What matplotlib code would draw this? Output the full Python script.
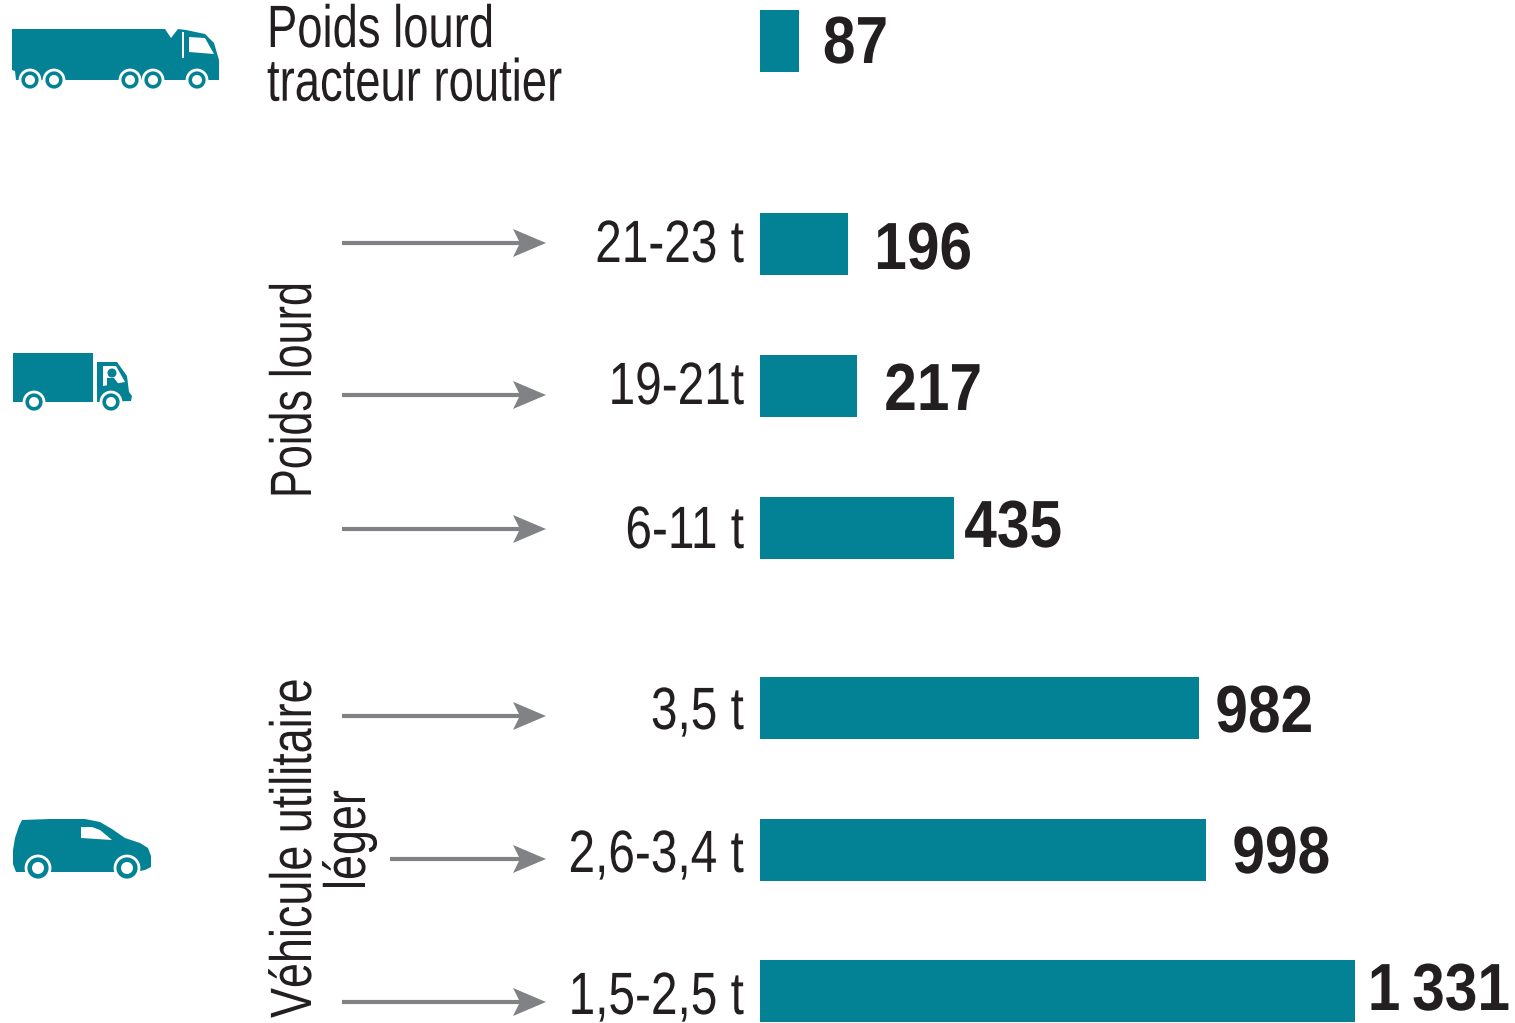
import matplotlib
matplotlib.use('Agg')
import matplotlib.pyplot as plt
from matplotlib.patches import Polygon, Circle, Rectangle
from matplotlib.patheffects import AbstractPathEffect
from matplotlib.transforms import Affine2D

# data
labels = ['21-23 t', '19-21t', '6-11 t', '3,5 t', '2,6-3,4 t', '1,5-2,5 t']
values = [87, 196, 217, 435, 982, 998, 1331]
value_labels = ['87', '196', '217', '435', '982', '998', '1\u2009331']

# layout, in pixels of the reference
W, H = 1515, 1023
BAR_Y = [41, 244, 386, 528, 708, 850, 991]
LABEL_BASE = [262, 404, 548, 729, 872, 1014]
VALUE_RIGHT = [888, 972, 982, 1062, 1313, 1330, 1510]
VALUE_BASE = [63, 269, 410, 547, 732, 873, 1010]
ARROWS = [(342, 243), (342, 395), (342, 529), (342, 716), (390, 859), (342, 1002)]
PX_PER_UNIT = 595 / 1331
X0 = 760

TEAL = '#048295'
DARK = '#231f20'
GREY = '#808285'
plt.rcParams['font.family'] = ['Liberation Sans', 'DejaVu Sans']

fig = plt.figure(figsize=(W / 100, H / 100), dpi=100)

# pixel overlay for text, arrows and icons
ax = fig.add_axes([0, 0, 1, 1])
ax.set_xlim(0, W)
ax.set_ylim(H, 0)
ax.axis('off')

# bars get their own x scale
bx = fig.add_axes([X0 / W, 0, (W - X0) / W, 1], sharey=ax)
bx.set_xlim(0, (W - X0) / PX_PER_UNIT)
bx.axis('off')
bx.patch.set_alpha(0)
bx.barh(BAR_Y, values, height=62, color=TEAL)


class Condense(AbstractPathEffect):
    # squeeze the glyphs about one point, there is no narrow font installed
    def __init__(self, x, y, sx=1.0, sy=1.0):
        super().__init__()
        self.x, self.y, self.sx, self.sy = x, y, sx, sy

    def draw_path(self, renderer, gc, tpath, affine, rgbFace=None):
        squeeze = Affine2D().translate(-self.x, -self.y).scale(self.sx, self.sy).translate(self.x, self.y)
        renderer.draw_path(gc, tpath, affine + squeeze, rgbFace)


def put(x, y, s, size, squeeze, rotation=0, **kw):
    px, py = ax.transData.transform((x, y))
    if rotation:
        fx = Condense(px, py, sy=squeeze)
    else:
        fx = Condense(px, py, sx=squeeze)
    ax.text(x, y, s, fontsize=size, color=DARK, va='baseline', rotation=rotation,
            rotation_mode='anchor', path_effects=[fx], **kw)


for i in range(len(labels)):
    put(744, LABEL_BASE[i], labels[i], 43, 0.8, ha='right')
for i in range(len(values)):
    put(VALUE_RIGHT[i], VALUE_BASE[i], value_labels[i], 48, 0.88, ha='right', fontweight='bold')

# multi-line text sits on the baseline of its last line
put(267, 102, 'Poids lourd\ntracteur routier', 43, 0.76, ha='left', linespacing=0.97)
put(311, 498, 'Poids lourd', 42, 0.74, rotation=90, ha='left')
put(311, 1018, 'Véhicule utilitaire', 42, 0.77, rotation=90, ha='left')
put(365, 890, 'léger', 42, 0.77, rotation=90, ha='left')

for x, y in ARROWS:
    ax.plot([x, 520], [y, y], color=GREY, lw=3, solid_capstyle='butt')
    ax.add_patch(Polygon([(513, y - 14), (546, y), (513, y + 14), (520, y)], color=GREY, lw=0))


def wheel(cx, cy, r):
    ax.add_patch(Circle((cx, cy), r, fc=TEAL, ec='white', lw=2, zorder=3))
    ax.add_patch(Circle((cx, cy), r * 0.5, fc='white', ec='none', zorder=4))


# semi truck
ax.add_patch(Polygon([(12, 29), (165, 29), (171, 38), (178, 29), (186, 30), (205, 34), (214, 43),
                      (219, 60), (219, 80), (50, 80), (16, 80), (15, 71), (12, 70)], fc=TEAL, ec='none'))
ax.add_patch(Polygon([(189, 37), (205, 38), (214, 54), (189, 52)], fc='white', ec='none'))
ax.add_patch(Rectangle((182, 32), 2, 26, fc='white', ec='none'))
for cx in (30, 54, 130, 153, 197):
    wheel(cx, 80, 10)

# truck
ax.add_patch(Rectangle((13, 353), 80, 49, fc=TEAL, ec='none'))
ax.add_patch(Polygon([(97, 362), (117, 362), (127, 376), (129, 392), (132, 396), (131, 401), (97, 402)],
                     fc=TEAL, ec='none'))
ax.add_patch(Polygon([(103, 366), (116, 366), (125, 382), (103, 386)], fc='white', ec='none'))
ax.add_patch(Circle((112, 373), 4.5, fc=TEAL, ec='none'))
ax.add_patch(Polygon([(107, 378), (114, 378), (120, 386), (107, 386)], fc=TEAL, ec='none'))
wheel(34, 402, 10)
wheel(111, 402, 10)

# van
ax.add_patch(Polygon([(22, 820), (50, 819), (85, 819), (100, 822), (112, 829), (125, 838), (140, 843),
                      (148, 848), (151, 856), (151, 867), (145, 870), (135, 872), (16, 872),
                      (13, 864), (13, 850), (15, 838), (19, 826)], fc=TEAL, ec='none'))
ax.add_patch(Polygon([(81, 827), (92, 827), (100, 830), (112, 840), (81, 838)], fc='white', ec='none'))
wheel(38, 868, 12)
wheel(127, 868, 12)

fig.savefig('out.png', dpi=100)
